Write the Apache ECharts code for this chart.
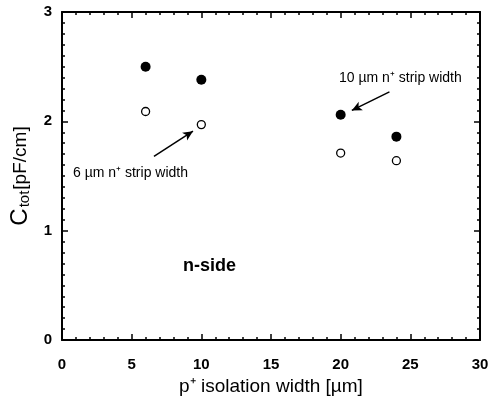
<!DOCTYPE html>
<html>
<head>
<meta charset="utf-8">
<script src="https://cdn.jsdelivr.net/npm/echarts@6/dist/echarts.min.js"></script>
<style>
  html, body { margin: 0; padding: 0; background: #fff; }
  #chart { width: 494px; height: 407px; }
</style>
</head>
<body>
<div id="chart"></div>
<script>
// isolation width [um]
const isoWidth = [6, 10, 20, 24]
// C_tot for 10 um n+ strip width (filled) and 6 um (open)
const ctot10um = [2.5, 2.38, 2.06, 1.86]
const ctot6um = [2.09, 1.97, 1.71, 1.64]

const font = 'Liberation Sans, Arial, sans-serif'

function pairs(xs, ys) {
  return xs.map((x, i) => [x, ys[i]])
}

const chart = echarts.init(document.getElementById('chart'))

const axisCommon = {
  axisLine: { show: true, onZero: false, lineStyle: { color: '#000', width: 2 } },
  axisTick: { show: true, inside: true, length: 6, lineStyle: { color: '#000', width: 1.5 } },
  splitLine: { show: false }
}
const minorX = { show: true, splitNumber: 5, length: 3, lineStyle: { color: '#000', width: 1.5 } }
const minorY = { show: true, splitNumber: 10, length: 3, lineStyle: { color: '#000', width: 1.5 } }
const tickLabel = { fontFamily: font, fontSize: 15, fontWeight: 'bold', color: '#000' }

chart.setOption({
  animation: false,
  backgroundColor: '#fff',
  grid: { left: 62, right: 14, top: 12, bottom: 67 },
  xAxis: [
    Object.assign({
      type: 'value',
      min: 0,
      max: 30,
      interval: 5,
      position: 'bottom',
      name: 'p\u207A isolation width [\u00B5m]',
      nameLocation: 'middle',
      nameGap: 35,
      nameTextStyle: { fontFamily: font, fontSize: 19, color: '#000' },
      axisLabel: Object.assign({ margin: 17 }, tickLabel),
      minorTick: minorX
    }, axisCommon),
    Object.assign({
      type: 'value',
      min: 0,
      max: 30,
      interval: 5,
      position: 'top',
      axisLabel: { show: false },
      minorTick: minorX
    }, axisCommon)
  ],
  yAxis: [
    Object.assign({
      type: 'value',
      min: 0,
      max: 3,
      interval: 1,
      position: 'left',
      name: '{a|C}{b|tot}{c|[pF/cm]}',
      nameLocation: 'middle',
      nameGap: 26,
      nameTextStyle: {
        color: '#000',
        rich: {
          a: { fontFamily: font, fontSize: 24, color: '#000' },
          b: { fontFamily: font, fontSize: 15, color: '#000', verticalAlign: 'bottom', padding: [6, 1, 0, 1] },
          c: { fontFamily: font, fontSize: 19, color: '#000' }
        }
      },
      axisLabel: Object.assign({ margin: 10 }, tickLabel),
      minorTick: minorY
    }, axisCommon),
    Object.assign({
      type: 'value',
      min: 0,
      max: 3,
      interval: 1,
      position: 'right',
      axisLabel: { show: false },
      minorTick: minorY
    }, axisCommon)
  ],
  series: [
    {
      name: '10 um',
      type: 'scatter',
      symbol: 'circle',
      symbolSize: 10,
      itemStyle: { color: '#000', opacity: 1 },
      data: pairs(isoWidth, ctot10um),
      markLine: {
        silent: true,
        symbol: ['none', 'arrow'],
        symbolSize: [7, 10],
        label: { show: false },
        lineStyle: { color: '#000', width: 1.5, type: 'solid' },
        data: [
          [{ coord: [23.5, 2.27] }, { coord: [20.8, 2.1] }],
          [{ coord: [6.6, 1.68] }, { coord: [9.4, 1.91] }]
        ]
      }
    },
    {
      name: '6 um',
      type: 'scatter',
      symbol: 'circle',
      symbolSize: 8,
      itemStyle: { color: '#fff', borderColor: '#000', borderWidth: 1.3, opacity: 1 },
      data: pairs(isoWidth, ctot6um)
    }
  ],
  graphic: [
    {
      type: 'text',
      left: 73,
      top: 166,
      style: { text: '6 \u00B5m n\u207A strip width', font: '14px ' + font, fill: '#000' }
    },
    {
      type: 'text',
      left: 339,
      top: 71,
      style: { text: '10 \u00B5m n\u207A strip width', font: '14px ' + font, fill: '#000' }
    },
    {
      type: 'text',
      left: 183,
      top: 257,
      style: { text: 'n-side', font: 'bold 18px ' + font, fill: '#000' }
    }
  ]
})
</script>
</body>
</html>
